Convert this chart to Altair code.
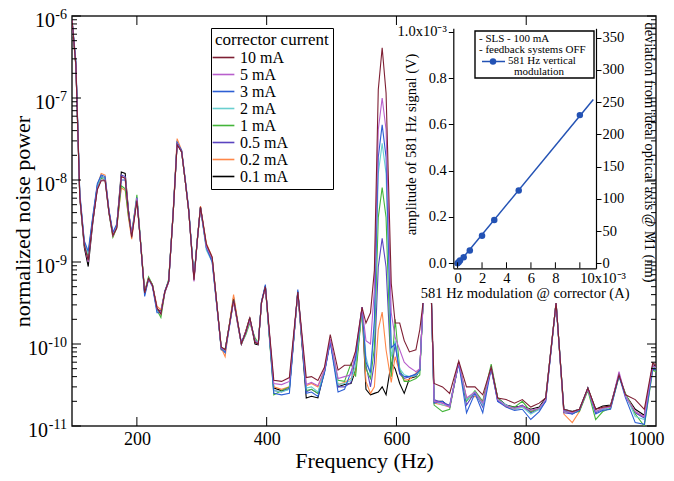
import altair as alt
import pandas as pd

SERIF = "Liberation Serif"

# ---------------- main spectrum data ----------------
freq = [100, 106, 112, 119, 125, 132, 139, 145, 151, 157,
        163, 169, 176, 182, 187, 192, 200, 206, 212, 218,
        224, 231, 237, 243, 249, 256, 262, 269, 275, 280,
        288, 293, 298, 307, 316, 323, 330, 336, 343, 349,
        355, 361, 368, 374, 382, 387, 392, 398, 411, 423,
        435, 448, 461, 469, 479, 489, 498, 510, 520, 530,
        537, 547, 553, 560, 566, 572, 578, 584, 592, 598,
        605, 612, 620, 630, 636, 641, 647, 654, 658, 671,
        682, 696, 708, 721, 733, 746, 756, 769, 782, 794,
        807, 820, 830, 846, 858, 871, 882, 895, 907, 918,
        930, 943, 953, 968, 982, 995, 1000]

s10 = [9.0e-7, 2.5e-7, 6.2e-9, 1.6e-9, 1.05e-9, 3.1e-9, 7.6e-9, 9.8e-9, 9.8e-9, 4.0e-9,
       2.1e-9, 2.6e-9, 1.1e-8, 1.05e-8, 4.0e-9, 2.0e-9, 5.6e-9, 1.6e-9, 4.2e-10, 6.3e-10,
       5.2e-10, 2.75e-10, 2.3e-10, 4.3e-10, 5.8e-10, 4.0e-9, 2.7e-8, 2.2e-8, 9.0e-9, 4.1e-9,
       6.0e-10, 1.8e-9, 4.7e-9, 1.65e-9, 1.15e-9, 3.2e-10, 9.2e-11, 8.5e-11, 1.8e-10, 3.5e-10,
       1.9e-10, 1.0e-10, 1.4e-10, 2.1e-10, 1.05e-10, 1.0e-10, 3.2e-10, 5.0e-10, 3.6e-11, 3.5e-11,
       3.9e-11, 4.3e-10, 3.9e-11, 4.0e-11, 3.6e-11, 5.2e-11, 1.3e-10, 4.8e-11, 5.5e-11, 5.5e-11,
       8.2e-11, 2.8e-10, 1.8e-10, 2.4e-10, 7.9e-10, 1.26e-7, 4.1e-7, 1.15e-7, 5.5e-10, 1.8e-10,
       1.8e-10, 1.1e-10, 8.0e-11, 8.5e-11, 1.5e-10, 3.2e-10, 8e-9, 3.2e-10, 3.3e-11, 3.0e-11,
       2.5e-11, 6.2e-11, 3.0e-11, 3.0e-11, 2.4e-11, 5.2e-11, 2.2e-11, 2.1e-11, 1.9e-11, 2.1e-11,
       1.7e-11, 1.9e-11, 2.2e-11, 3.2e-10, 1.6e-11, 1.5e-11, 1.6e-11, 2.9e-11, 1.6e-11, 1.7e-11,
       1.75e-11, 4.2e-11, 2.4e-11, 2.1e-11, 1.6e-11, 5.9e-11, 5.5e-11]

s5 = [9.0e-7, 2.5e-7, 6.3e-9, 1.6e-9, 1.0e-9, 3.1e-9, 7.8e-9, 1.0e-8, 1.0e-8, 4.0e-9,
      2.1e-9, 2.7e-9, 1.1e-8, 1.05e-8, 4.1e-9, 2.1e-9, 6.0e-9, 1.6e-9, 4.3e-10, 6.2e-10,
      5.1e-10, 2.7e-10, 2.4e-10, 4.2e-10, 5.7e-10, 4.0e-9, 2.75e-8, 2.2e-8, 9.0e-9, 4.1e-9,
      5.8e-10, 1.75e-9, 4.6e-9, 1.55e-9, 1.1e-9, 3.1e-10, 9.0e-11, 8.4e-11, 1.75e-10, 3.3e-10,
      1.8e-10, 1.0e-10, 1.4e-10, 1.9e-10, 1.1e-10, 1.0e-10, 3.1e-10, 4.9e-10, 3.3e-11, 3.2e-11,
      3.5e-11, 4.2e-10, 3.2e-11, 3.4e-11, 3.1e-11, 4.8e-11, 1.15e-10, 3.8e-11, 4.0e-11, 4.2e-11,
      8.0e-11, 2.8e-10, 1.1e-10, 1.0e-10, 4.6e-10, 4.1e-8, 1.0e-7, 4.1e-8, 2.4e-10, 1.2e-10,
      8.5e-11, 6.0e-11, 5.2e-11, 4.6e-11, 5.0e-11, 3.1e-10, 8e-9, 3.2e-10, 2.0e-11, 1.9e-11,
      1.7e-11, 6.0e-11, 2.2e-11, 2.6e-11, 1.9e-11, 5.2e-11, 2.1e-11, 1.75e-11, 1.65e-11, 1.75e-11,
      1.55e-11, 1.65e-11, 2.1e-11, 3.2e-10, 1.5e-11, 1.45e-11, 1.6e-11, 2.8e-11, 1.5e-11, 1.65e-11,
      1.7e-11, 4.6e-11, 2.3e-11, 1.5e-11, 1.3e-11, 5.5e-11, 5.2e-11]

s3 = [9.2e-7, 2.8e-7, 7.0e-9, 1.8e-9, 1.35e-9, 3.6e-9, 9.0e-9, 1.15e-8, 1.1e-8, 4.3e-9,
      2.3e-9, 2.9e-9, 1.0e-8, 1.0e-8, 4.2e-9, 2.2e-9, 6.1e-9, 1.6e-9, 3.8e-10, 6.2e-10,
      5.0e-10, 2.4e-10, 2.4e-10, 4.4e-10, 5.9e-10, 4.2e-9, 2.9e-8, 2.3e-8, 9.5e-9, 4.4e-9,
      6.4e-10, 1.85e-9, 4.6e-9, 1.5e-9, 1.0e-9, 3.0e-10, 8.8e-11, 7.8e-11, 1.7e-10, 3.4e-10,
      1.9e-10, 1.05e-10, 1.4e-10, 2.05e-10, 1.1e-10, 1.0e-10, 3.3e-10, 5.3e-10, 2.5e-11, 2.4e-11,
      2.5e-11, 4.6e-10, 2.5e-11, 2.6e-11, 2.3e-11, 4.4e-11, 1.05e-10, 2.6e-11, 2.8e-11, 4.6e-11,
      6.5e-11, 2.8e-10, 6.0e-11, 4.5e-11, 1.95e-10, 1.9e-8, 4.7e-8, 1.9e-8, 9.0e-11, 1.0e-10,
      4.5e-11, 4.0e-11, 4.0e-11, 4.3e-11, 4.8e-11, 3.2e-10, 8e-9, 3.2e-10, 1.9e-11, 2.0e-11,
      1.7e-11, 5.8e-11, 1.45e-11, 2.5e-11, 1.45e-11, 5.0e-11, 2.0e-11, 1.7e-11, 1.55e-11, 1.6e-11,
      1.2e-11, 1.5e-11, 2.0e-11, 3.1e-10, 1.55e-11, 1.4e-11, 1.55e-11, 2.9e-11, 1.4e-11, 1.55e-11,
      1.6e-11, 4.1e-11, 2.2e-11, 1.1e-11, 1.05e-11, 5.0e-11, 4.8e-11]

s2 = [9.0e-7, 2.6e-7, 6.6e-9, 1.7e-9, 1.25e-9, 3.4e-9, 8.5e-9, 1.1e-8, 1.05e-8, 4.1e-9,
      2.2e-9, 2.8e-9, 1.1e-8, 1.05e-8, 4.1e-9, 2.1e-9, 6.0e-9, 1.6e-9, 4.0e-10, 6.3e-10,
      5.2e-10, 2.5e-10, 2.4e-10, 4.3e-10, 5.8e-10, 4.0e-9, 2.8e-8, 2.2e-8, 9.2e-9, 4.2e-9,
      6.3e-10, 1.8e-9, 4.5e-9, 1.4e-9, 1.0e-9, 3.0e-10, 9.0e-11, 8.0e-11, 1.75e-10, 3.4e-10,
      1.85e-10, 1.0e-10, 1.35e-10, 2.0e-10, 1.1e-10, 1.05e-10, 3.2e-10, 5.1e-10, 2.7e-11, 2.6e-11,
      2.8e-11, 4.4e-10, 2.9e-11, 3.0e-11, 2.6e-11, 4.5e-11, 1.1e-10, 3.2e-11, 3.3e-11, 3.6e-11,
      5.5e-11, 2.75e-10, 7.0e-11, 4.2e-11, 1.5e-10, 1.2e-8, 2.8e-8, 1.2e-8, 7.0e-11, 1.1e-10,
      5.0e-11, 4.2e-11, 4.0e-11, 4.1e-11, 4.8e-11, 3.2e-10, 8e-9, 3.2e-10, 2.0e-11, 1.8e-11,
      1.75e-11, 6.0e-11, 2.1e-11, 2.6e-11, 1.8e-11, 5.2e-11, 2.1e-11, 1.8e-11, 1.6e-11, 1.7e-11,
      1.4e-11, 1.6e-11, 2.1e-11, 3.2e-10, 1.6e-11, 1.5e-11, 1.6e-11, 2.8e-11, 1.5e-11, 1.6e-11,
      1.7e-11, 4.2e-11, 2.4e-11, 1.3e-11, 1.2e-11, 5.2e-11, 5.0e-11]

s1 = [8.9e-7, 2.5e-7, 6.3e-9, 1.6e-9, 1.2e-9, 3.3e-9, 8.2e-9, 1.05e-8, 1.0e-8, 3.9e-9,
      2.0e-9, 2.6e-9, 8.5e-9, 7.8e-9, 3.6e-9, 2.2e-9, 6.6e-9, 1.7e-9, 4.4e-10, 6.6e-10,
      5.3e-10, 2.6e-10, 2.1e-10, 4.2e-10, 6.2e-10, 4.0e-9, 2.8e-8, 2.2e-8, 9.0e-9, 4.1e-9,
      6.3e-10, 1.8e-9, 4.6e-9, 1.55e-9, 1.1e-9, 3.1e-10, 9.1e-11, 8.6e-11, 1.8e-10, 3.5e-10,
      1.8e-10, 1.0e-10, 1.3e-10, 1.8e-10, 1.2e-10, 1.02e-10, 3.2e-10, 5.0e-10, 2.4e-11, 2.7e-11,
      3.0e-11, 4.3e-10, 2.7e-11, 2.8e-11, 2.5e-11, 4.6e-11, 1.1e-10, 3.6e-11, 3.5e-11, 5.8e-11,
      4.0e-11, 2.6e-10, 5.0e-11, 3.8e-11, 9.0e-11, 3.5e-9, 8.1e-9, 3.5e-9, 4.0e-11, 2.0e-10,
      5.0e-11, 3.5e-11, 3.5e-11, 3.8e-11, 4.2e-11, 3.1e-10, 8e-9, 3.2e-10, 1.8e-11, 1.5e-11,
      1.6e-11, 6.0e-11, 2.0e-11, 2.7e-11, 2.0e-11, 5.7e-11, 2.2e-11, 1.75e-11, 1.7e-11, 2.0e-11,
      1.5e-11, 1.65e-11, 2.1e-11, 3.2e-10, 1.5e-11, 1.45e-11, 1.5e-11, 2.7e-11, 1.2e-11, 1.5e-11,
      1.65e-11, 4.0e-11, 2.5e-11, 1.4e-11, 1.0e-11, 4.8e-11, 4.6e-11]

s05 = [9.0e-7, 2.6e-7, 6.5e-9, 1.7e-9, 1.2e-9, 3.4e-9, 8.6e-9, 1.1e-8, 1.05e-8, 4.2e-9,
       2.2e-9, 2.8e-9, 1.15e-8, 1.1e-8, 4.2e-9, 2.1e-9, 6.0e-9, 1.6e-9, 4.2e-10, 6.3e-10,
       5.2e-10, 2.6e-10, 2.4e-10, 4.3e-10, 5.8e-10, 4.1e-9, 2.8e-8, 2.25e-8, 9.2e-9, 4.2e-9,
       6.2e-10, 1.8e-9, 4.6e-9, 1.5e-9, 1.05e-9, 3.1e-10, 8.9e-11, 8.2e-11, 1.75e-10, 3.4e-10,
       1.85e-10, 1.0e-10, 1.4e-10, 2.0e-10, 1.1e-10, 1.0e-10, 3.2e-10, 5.1e-10, 2.7e-11, 2.6e-11,
       2.9e-11, 4.4e-10, 2.6e-11, 2.8e-11, 2.5e-11, 4.5e-11, 1.1e-10, 3.0e-11, 3.0e-11, 3.4e-11,
       7.0e-11, 2.8e-10, 5.5e-11, 3.0e-11, 5.9e-11, 8.7e-10, 1.95e-9, 8.7e-10, 4.5e-11, 1.0e-10,
       4.3e-11, 3.8e-11, 4.0e-11, 4.2e-11, 4.8e-11, 3.2e-10, 8e-9, 3.2e-10, 2.1e-11, 1.9e-11,
       1.8e-11, 5.9e-11, 1.8e-11, 2.6e-11, 1.7e-11, 5.1e-11, 2.0e-11, 1.8e-11, 1.65e-11, 1.8e-11,
       1.45e-11, 1.6e-11, 2.0e-11, 3.2e-10, 1.45e-11, 1.4e-11, 1.55e-11, 2.8e-11, 1.45e-11, 1.6e-11,
       1.7e-11, 4.3e-11, 2.3e-11, 1.45e-11, 1.25e-11, 5.3e-11, 5.0e-11]

s02 = [9.1e-7, 2.6e-7, 6.4e-9, 1.65e-9, 1.15e-9, 3.3e-9, 8.4e-9, 1.2e-8, 1.15e-8, 4.1e-9,
       2.0e-9, 2.7e-9, 8.0e-9, 7.5e-9, 3.5e-9, 1.9e-9, 5.9e-9, 1.6e-9, 4.3e-10, 6.4e-10,
       5.3e-10, 2.9e-10, 2.6e-10, 4.4e-10, 5.9e-10, 4.3e-9, 3.2e-8, 2.3e-8, 9.3e-9, 4.2e-9,
       6.3e-10, 1.85e-9, 4.8e-9, 1.7e-9, 1.15e-9, 3.2e-10, 9.0e-11, 7.0e-11, 1.85e-10, 4.0e-10,
       2.0e-10, 1.0e-10, 1.45e-10, 2.1e-10, 1.1e-10, 1.0e-10, 3.2e-10, 5.0e-10, 3.0e-11, 2.8e-11,
       3.0e-11, 4.3e-10, 3.1e-11, 3.3e-11, 3.0e-11, 4.8e-11, 1.1e-10, 3.2e-11, 3.4e-11, 3.8e-11,
       4.5e-11, 2.8e-10, 3.5e-11, 2.5e-11, 3.0e-11, 1.5e-10, 2.45e-10, 8.5e-11, 3.4e-11, 7.0e-11,
       4.5e-11, 3.6e-11, 3.7e-11, 4.4e-11, 4.9e-11, 3.2e-10, 8e-9, 3.2e-10, 1.9e-11, 1.8e-11,
       1.7e-11, 6.0e-11, 2.2e-11, 2.3e-11, 2.0e-11, 5.0e-11, 2.1e-11, 1.7e-11, 1.6e-11, 1.7e-11,
       1.5e-11, 1.6e-11, 2.1e-11, 3.2e-10, 1.4e-11, 1.1e-11, 1.5e-11, 2.9e-11, 1.5e-11, 1.65e-11,
       1.7e-11, 4.1e-11, 2.4e-11, 1.5e-11, 1.3e-11, 5.4e-11, 5.1e-11]

s01 = [8.7e-7, 2.4e-7, 6.1e-9, 1.5e-9, 8.8e-10, 3.0e-9, 8.0e-9, 1.1e-8, 1.05e-8, 4.0e-9,
       2.2e-9, 2.8e-9, 1.25e-8, 1.2e-8, 4.3e-9, 2.1e-9, 5.9e-9, 1.6e-9, 4.1e-10, 6.3e-10,
       5.2e-10, 2.7e-10, 2.5e-10, 4.3e-10, 5.8e-10, 4.0e-9, 2.8e-8, 2.2e-8, 9.0e-9, 4.1e-9,
       6.3e-10, 1.8e-9, 4.7e-9, 1.6e-9, 1.1e-9, 3.2e-10, 8.5e-11, 8.4e-11, 1.8e-10, 3.7e-10,
       1.9e-10, 1.0e-10, 1.45e-10, 2.1e-10, 1.0e-10, 9.8e-11, 3.2e-10, 5.0e-10, 2.9e-11, 2.7e-11,
       2.8e-11, 4.3e-10, 2.2e-11, 2.3e-11, 2.2e-11, 4.6e-11, 1.1e-10, 3.0e-11, 3.2e-11, 3.3e-11,
       4.8e-11, 2.8e-10, 2.8e-11, 2.4e-11, 2.5e-11, 2.6e-11, 3.0e-11, 2.4e-11, 5.9e-11, 5.0e-11,
       3.3e-11, 2.5e-11, 3.8e-11, 4.0e-11, 4.8e-11, 3.2e-10, 8e-9, 3.2e-10, 2.0e-11, 2.0e-11,
       1.7e-11, 6.0e-11, 2.1e-11, 2.6e-11, 1.9e-11, 5.2e-11, 2.2e-11, 1.8e-11, 1.7e-11, 1.75e-11,
       1.6e-11, 1.7e-11, 2.2e-11, 3.2e-10, 1.6e-11, 1.5e-11, 1.6e-11, 2.9e-11, 1.6e-11, 1.75e-11,
       1.8e-11, 4.2e-11, 2.4e-11, 1.6e-11, 1.35e-11, 5.6e-11, 5.3e-11]

series_labels = ["10 mA", "5 mA", "3 mA", "2 mA", "1 mA", "0.5 mA", "0.2 mA", "0.1 mA"]
series_colors = ["#7e1f33", "#b85fcc", "#2d5fd4", "#6acfcf", "#44b53a", "#5a44c0", "#ff8748", "#000000"]
series_values = [s10, s5, s3, s2, s1, s05, s02, s01]

x_tick_values = [200, 400, 600, 800, 1000]
y_major = [1e-11, 1e-10, 1e-9, 1e-8, 1e-7, 1e-6]
y_major_exponents = ["-11", "-10", "-9", "-8", "-7", "-6"]
y_minor = [k * 10.0 ** e for e in range(-11, -6) for k in range(2, 10)]

# ---------------- inset data ----------------
inset_current = [0.0, 0.0001, 0.0002, 0.0005, 0.001, 0.002, 0.003, 0.005, 0.010]
inset_amplitude = [0.0, 0.000006, 0.000012, 0.000026, 0.000055, 0.000119, 0.000187, 0.000314, 0.000640]
inset_x_ticks = [0.0, 0.002, 0.004, 0.006, 0.008, 0.010]
inset_y_ticks = [0.0, 0.0002, 0.0004, 0.0006, 0.0008, 0.0010]
inset_nm_ticks = [0, 50, 100, 150, 200, 250, 300, 350]
inset_legend_lines = ["- SLS - 100 mA", "- feedback systems OFF", "581 Hz vertical", "modulation"]

for v in series_values:
    assert len(v) == len(freq), len(v)

W, H = 584, 410
INSET_COLOR = "#2352b4"

rows = []
for name, vals in reversed(list(zip(series_labels, series_values))):
    for f, v in zip(freq, vals):
        rows.append({"freq": f, "power": v, "series": name})
main_df = pd.DataFrame(rows)


def xscale():
    return alt.Scale(domain=[100, 1000], nice=False, zero=False)


def yscale():
    return alt.Scale(type="log", domain=[1e-11, 1e-6], nice=False)


lines = alt.Chart(main_df).mark_line(strokeWidth=1.1, clip=True).encode(
    x=alt.X("freq:Q", scale=xscale(),
            axis=alt.Axis(orient="bottom", values=x_tick_values, format="d", ticks=False, tickSize=0,
                          domain=False, grid=False, labelFontSize=18, labelPadding=4,
                          labelFlush=1, labelFlushOffset=8,
                          title="Frequency (Hz)", titleFontSize=22, titlePadding=2)),
    y=alt.Y("power:Q", scale=yscale(),
            axis=alt.Axis(orient="left", values=y_major, labels=False, ticks=False, tickSize=0,
                          domain=False, grid=False, title="normalized noise power", titleFontSize=22,
                          titleX=-50, titleY=H / 2, titleBaseline="middle", titleAlign="center",
                          titleAngle=270)),
    color=alt.Color("series:N", scale=alt.Scale(domain=series_labels, range=series_colors),
                    legend=alt.Legend(title="corrector current", orient="none", legendX=139, legendY=12,
                                      direction="vertical", symbolType="M-1.45,0H1.45", symbolSize=225,
                                      symbolStrokeWidth=1.6, labelFontSize=16, titleFontSize=17,
                                      titleFontWeight="normal", strokeColor="black", fillColor="white",
                                      padding=4, rowPadding=0, titlePadding=0, labelOffset=8,
                                      labelFont=SERIF, titleFont=SERIF, labelColor="black",
                                      titleColor="black")),
)

# y tick labels: "10" with raised exponent
ylab_df = pd.DataFrame({"power": y_major, "exp": y_major_exponents})


def ylabels(values_filter, base_dx):
    d = ylab_df[ylab_df["exp"].str.len() == values_filter]
    base = alt.Chart(d).mark_text(text="10", align="right", baseline="middle", fontSize=20,
                                  font=SERIF, color="black", dx=base_dx, dy=5).encode(
        x=alt.value(0), y=alt.Y("power:Q", scale=yscale(), axis=None))
    expo = alt.Chart(d).mark_text(align="right", baseline="middle", fontSize=14,
                                  font=SERIF, color="black", dx=-5, dy=-1).encode(
        text="exp:N", x=alt.value(0), y=alt.Y("power:Q", scale=yscale(), axis=None))
    return [base, expo]


one = pd.DataFrame({"k": [0]})
inset_bg = alt.Chart(one).mark_rect(fill="white").encode(
    x=alt.value(328), x2=alt.value(583), y=alt.value(3), y2=alt.value(287))

ymaj_df = pd.DataFrame({"power": y_major})
ymin_df = pd.DataFrame({"power": y_minor})
xt_df = pd.DataFrame({"freq": [200, 400, 600, 800]})


def yrule(df, x0, x1):
    return alt.Chart(df).mark_rule(color="black", strokeWidth=1).encode(
        y=alt.Y("power:Q", scale=yscale(), axis=None), x=alt.value(x0), x2=alt.value(x1))


def xrule(y0, y1):
    return alt.Chart(xt_df).mark_rule(color="black", strokeWidth=1).encode(
        x=alt.X("freq:Q", scale=xscale(), axis=None), y=alt.value(y0), y2=alt.value(y1))


# ---------------- inset ----------------
IX0, IX1, IY0, IY1 = 381.3, 524.0, 252.3, 12.3


def ixs():
    return alt.Scale(domain=[-0.00035, 0.01132], range=[IX0, IX1], nice=False, zero=False)


def iys():
    return alt.Scale(domain=[-0.0000216, 0.001015], range=[IY0, IY1], nice=False, zero=False)


ins = alt.Scale(domain=[-7.76, 364.6], range=[IY0, IY1], nice=False, zero=False)

inset_df = pd.DataFrame({"cur": inset_current, "amp": inset_amplitude})

ix_axis = alt.Axis(orient="bottom", offset=-(H - IY0), values=inset_x_ticks,
                   labelExpr="datum.value > 0.009 ? '10x10⁻³' : format(datum.value*1000, '.0f')",
                   labelAlign=alt.condition("datum.value > 0.009", alt.value("left"), alt.value("center")),
                   labelOverlap=False, labelFlush=False,
                   ticks=False, tickSize=0, domain=True, domainColor="black", domainWidth=1.2,
                   grid=False, labelFontSize=14.5, labelPadding=3, title="581 Hz modulation @ corrector (A)",
                   titleFontSize=14.5, titlePadding=2, zindex=1)
iy_axis = alt.Axis(orient="left", offset=-IX0, values=inset_y_ticks,
                   labelExpr="datum.value > 0.0009 ? '1.0x10⁻³' : format(datum.value*1000, '.1f')",
                   labelOverlap=False,
                   tickSize=5, tickColor="black", domain=True, domainColor="black", domainWidth=1.2,
                   grid=False, labelFontSize=14.5, labelPadding=2, title="amplitude of  581 Hz signal (V)",
                   titleFontSize=14.5, titleX=-35, titleY=128, zindex=1)

inset_line = alt.Chart(inset_df).mark_line(color=INSET_COLOR, strokeWidth=1.5).transform_regression(
    "cur", "amp", extent=[0, 0.0111]).encode(
    x=alt.X("cur:Q", scale=ixs(), axis=None), y=alt.Y("amp:Q", scale=iys(), axis=None))
inset_pts = alt.Chart(inset_df).mark_circle(color=INSET_COLOR, size=42, opacity=1).encode(
    x=alt.X("cur:Q", scale=ixs(), axis=ix_axis), y=alt.Y("amp:Q", scale=iys(), axis=iy_axis))
inset_ticks = alt.Chart(pd.DataFrame({"cur": inset_x_ticks})).mark_rule(color="black", strokeWidth=1).encode(
    x=alt.X("cur:Q", scale=ixs(), axis=None), y=alt.value(IY0), y2=alt.value(IY0 - 6))

inset_right = alt.Chart(pd.DataFrame({"nm": inset_nm_ticks})).mark_point(opacity=0).encode(
    y=alt.Y("nm:Q", scale=ins,
            axis=alt.Axis(orient="right", offset=-(W - IX1), values=inset_nm_ticks, tickSize=5,
                          tickColor="black", domain=True, domainColor="black", domainWidth=1.2,
                          grid=False, labelFontSize=14.5, labelPadding=1, labelOverlap=False,
                          title="deviation from ideal optical axis @ M1 (nm)", titleFontSize=14.5,
                          titleX=45, titleY=136, zindex=1)))

leg_box = alt.Chart(one).mark_rect(fill="white", stroke="black", strokeWidth=1.4).encode(
    x=alt.value(403), x2=alt.value(522), y=alt.value(15), y2=alt.value(62))


def leg_text(txt, x, y, align):
    return alt.Chart(one).mark_text(text=txt, align=align, baseline="middle", fontSize=11,
                                    font=SERIF, color="black").encode(x=alt.value(x), y=alt.value(y))


leg_rule = alt.Chart(one).mark_rule(color=INSET_COLOR, strokeWidth=1.5).encode(
    x=alt.value(410), x2=alt.value(433), y=alt.value(45.5))
leg_dot = alt.Chart(one).mark_circle(color=INSET_COLOR, size=42, opacity=1).encode(
    x=alt.value(421), y=alt.value(45.5))

chart = alt.layer(
    lines, inset_bg,
    *ylabels(2, -17), *ylabels(3, -24),
    yrule(ymaj_df, 0, 9), yrule(ymin_df, 0, 5),
    yrule(ymaj_df, W - 9, W), yrule(ymin_df, W - 5, W),
    xrule(0, 9), xrule(H, H - 9),
    inset_line, inset_pts, inset_ticks, inset_right,
    leg_box,
    leg_text(inset_legend_lines[0], 407, 22.5, "left"),
    leg_text(inset_legend_lines[1], 407, 33.5, "left"),
    leg_text(inset_legend_lines[2], 470, 45, "center"),
    leg_text(inset_legend_lines[3], 467, 56, "center"),
    leg_rule, leg_dot,
).resolve_scale(
    x="independent", y="independent"
).properties(
    width=W, height=H,
    padding={"left": 64, "top": 8, "right": 10, "bottom": 47},
    autosize=alt.AutoSizeParams(type="none"),
).configure_view(
    stroke="#222222", strokeWidth=1.5
).configure_axis(
    labelFont=SERIF, titleFont=SERIF, labelColor="black", titleColor="black",
    titleFontWeight="normal"
).configure_text(font=SERIF)

chart.save("out.html", embed_options={"renderer": "svg", "actions": False})
